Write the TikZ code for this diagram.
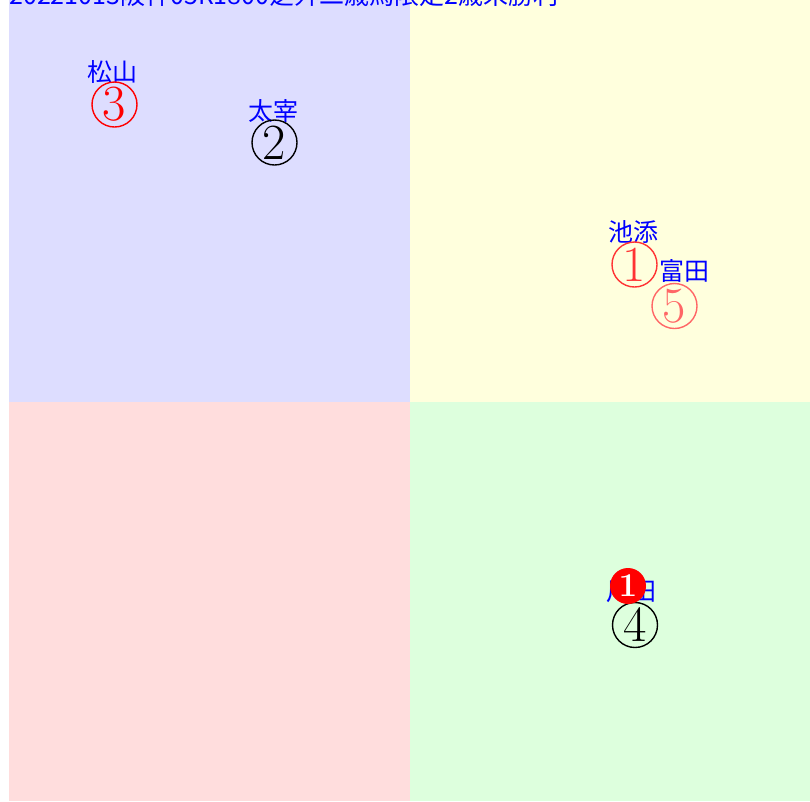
\documentclass[tikz,border=0pt]{standalone}
\usepackage{fontspec}
\newfontfamily\cjk{Noto Sans CJK JP}
\definecolor{qblue}{HTML}{DDDDFF}
\definecolor{qyellow}{HTML}{FFFFDD}
\definecolor{qred}{HTML}{FFDDDD}
\definecolor{qgreen}{HTML}{DDFFDD}
\begin{document}
\begin{tikzpicture}[x=0.75pt,y=-0.75pt,
  lbl/.style={font=\cjk\fontsize{18.75}{20}\selectfont, text=blue, inner sep=0pt},
  num/.style={circle, draw, line width=1.05pt, minimum size=33.75pt, inner sep=0pt, font=\fontsize{38}{40}\selectfont},
  filled/.style={circle, fill=red, minimum size=27pt, inner sep=0pt, text=white, font=\bfseries\fontsize{25}{26}\selectfont}]
\useasboundingbox (0,0) rectangle (810,801);
% quadrants
\fill[qblue] (9,0) rectangle (409.5,402);
\fill[qyellow] (409.5,0) rectangle (810,402);
\fill[qred] (9,402) rectangle (409.5,801);
\fill[qgreen] (409.5,402) rectangle (810,801);
% title (clipped at the top)
\node[lbl, anchor=base west] (title) at (9,4) {20221013阪神05R1800芝外二歳馬限定2歳未勝利};
% labels
\node[lbl] (l3) at (112,72) {松山};
\node[lbl] (l2) at (273,111) {太宰};
\node[lbl] (l1) at (633,232) {池添};
\node[lbl] (l5) at (684,271) {富田};
\node[lbl] (l4) at (631,592) {川田};
% circled numbers
\node[num, draw=red, text=red] (n3) at (114.5,104.5) {3};
\node[num, draw=black, text=black] (n2) at (274.5,142.5) {2};
\node[num, draw=red!80, text=red!80] (n1) at (634.5,264.5) {1};
\node[num, draw=red!60, text=red!60] (n5) at (674.5,306) {5};
\node[num, draw=black, text=black] (n4) at (635,625) {4};
% filled marker
\node[filled] (f1) at (628,586) {1};
\end{tikzpicture}
\end{document}
